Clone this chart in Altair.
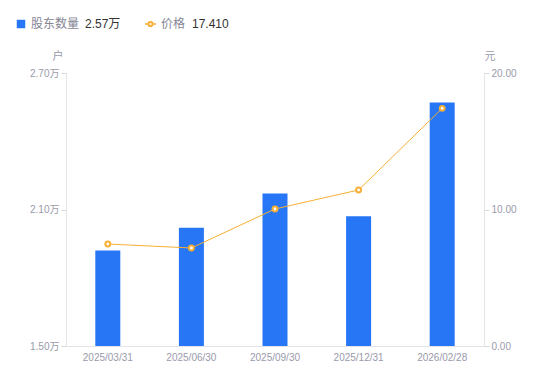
import altair as alt
import pandas as pd

dates = ["2025/03/31", "2025/06/30", "2025/09/30", "2025/12/31", "2026/02/28"]
holders_wan = [1.92, 2.02, 2.17, 2.07, 2.57]
prices = [7.47, 7.18, 10.04, 11.43, 17.41]

df = pd.DataFrame({"date": dates, "holders": holders_wan, "price": prices})

FONT = "Liberation Sans, Noto Sans CJK SC"
GREY = "#9a9aab"
BLUE = "#2676F5"
ORANGE = "#F7AF35"

x = alt.X("date:N", sort=dates, title=None,
          scale=alt.Scale(paddingInner=0, paddingOuter=0),
          axis=alt.Axis(labelAngle=0, ticks=False, domainColor="#e3e3e8",
                        labelColor=GREY, labelFontSize=10, labelPadding=6, labelFont=FONT))

bars = alt.Chart(df).mark_bar(size=25, color=BLUE).encode(
    x=x,
    y=alt.Y("holders:Q", title=None,
            scale=alt.Scale(domain=[1.5, 2.7], zero=False, nice=False),
            axis=alt.Axis(values=[1.5, 2.1, 2.7], grid=False, tickSize=5,
                          tickColor="#d8d8de", domainColor="#e3e3e8",
                          labelColor=GREY, labelFontSize=10, labelFont=FONT,
                          labelExpr="format(datum.value, '.2f') + '万'")),
    y2=alt.datum(1.5),
)

line_base = alt.Chart(df).encode(
    x=x,
    y=alt.Y("price:Q", title=None,
            scale=alt.Scale(domain=[0, 20], nice=False),
            axis=alt.Axis(orient="right", values=[0, 10, 20], grid=False, tickSize=5,
                          tickColor="#d8d8de", domainColor="#e3e3e8",
                          labelColor=GREY, labelFontSize=10, labelFont=FONT,
                          format=".2f")),
)
line = line_base.mark_line(color=ORANGE, strokeWidth=1)
pts = line_base.mark_point(shape="circle", filled=True, fill="white", stroke=ORANGE,
                           strokeWidth=2, size=24, opacity=1)

right = alt.layer(line, pts)

legend_df = pd.DataFrame({"d": [0]})
def txt(t, xv, yv, color, size=12, align="left"):
    return alt.Chart(legend_df).mark_text(text=t, align=align, baseline="middle",
                                          fontSize=size, color=color, font=FONT).encode(
        x=alt.value(xv), y=alt.value(yv))

sq = alt.Chart(legend_df).mark_square(size=72, color=BLUE, filled=True, opacity=1).encode(
    x=alt.value(-45), y=alt.value(-49))
leg_line = alt.Chart(legend_df).mark_rule(color=ORANGE, strokeWidth=1.5).encode(
    x=alt.value(79), x2=alt.value(90), y=alt.value(-49))
leg_pt = alt.Chart(legend_df).mark_point(shape="circle", filled=True, fill="white",
                                         stroke=ORANGE, strokeWidth=2, size=18, opacity=1).encode(
    x=alt.value(84.5), y=alt.value(-49))

extras = alt.layer(
    sq,
    txt("股东数量", -35, -49, "#858595"),
    txt(f"{holders_wan[-1]:.2f}万", 19, -49, "#333333"),
    leg_line, leg_pt,
    txt("价格", 95, -49, "#858595"),
    txt(f"{prices[-1]:.3f}", 126, -49, "#333333"),
    txt("户", -8, -16, GREY, 11, "center"),
    txt("元", 424, -16, GREY, 11, "center"),
)

chart = alt.layer(bars, right, extras).resolve_scale(y="independent").properties(
    width=418, height=273,
    autosize=alt.AutoSizeParams(type="none"),
    padding={"left": 58, "top": 65, "right": 50, "bottom": 20},
).configure_view(stroke=None)

chart.save("out.html", embed_options={"renderer": "svg", "actions": False})
